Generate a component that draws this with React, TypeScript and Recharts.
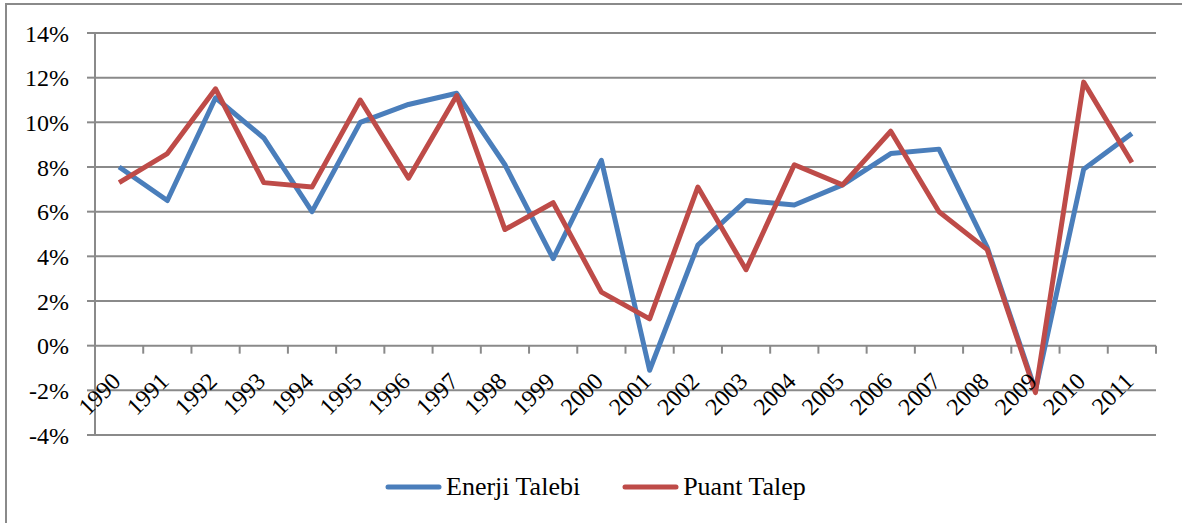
import React from 'react';
import { LineChart, Line, XAxis, YAxis, CartesianGrid, Legend } from 'recharts';

const YEARS = ['1990','1991','1992','1993','1994','1995','1996','1997','1998','1999','2000','2001','2002','2003','2004','2005','2006','2007','2008','2009','2010','2011'];
const ENERJI_TALEBI = [8.0,6.5,11.1,9.3,6.0,10.0,10.8,11.3,8.1,3.9,8.3,-1.1,4.5,6.5,6.3,7.2,8.6,8.8,4.4,-2.0,7.9,9.5];
const PUANT_TALEP = [7.3,8.6,11.5,7.3,7.1,11.0,7.5,11.2,5.2,6.4,2.4,1.2,7.1,3.4,8.1,7.2,9.6,6.0,4.3,-2.1,11.8,8.2];
const Y_TICKS = [-4,-2,0,2,4,6,8,10,12,14];
const SERIES_NAMES = ['Enerji Talebi', 'Puant Talep'];
const COLORS = ['#4A7EBB', '#BE4B48'];

const data = YEARS.map((y, i) => ({ year: y, enerji: ENERJI_TALEBI[i], puant: PUANT_TALEP[i] }));

const W = 1182;
const H = 523;
const PLOT_LEFT = 95;
const PLOT_RIGHT = 1156;
const PLOT_TOP = 33;
const PLOT_BOTTOM = 435;
const PLOT_W = PLOT_RIGHT - PLOT_LEFT;
const PLOT_H = PLOT_BOTTOM - PLOT_TOP;
const Y_MIN = Y_TICKS[0];
const Y_MAX = Y_TICKS[Y_TICKS.length - 1];
const BAND = PLOT_W / YEARS.length;
const ZERO_OFFSET = (PLOT_H * (0 - Y_MIN)) / (Y_MAX - Y_MIN);
const GRAY = '#8a8a8a';
const FONT = 'Liberation Serif, Tinos, DejaVu Serif, serif';

const XTick = (props: any) => {
  const { x, y, payload } = props;
  const zeroY = y - ZERO_OFFSET;
  const ax = x + 3;
  const ay = zeroY + 37;
  return (
    <g>
      <line x1={x + BAND / 2} x2={x + BAND / 2} y1={zeroY} y2={zeroY + 8} stroke={GRAY} strokeWidth={2} />
      <text x={ax} y={ay} textAnchor="end" style={{ fontFamily: FONT, fontSize: 24 }} fill="#000" transform={`rotate(-45 ${ax} ${ay})`}>
        {payload.value}
      </text>
    </g>
  );
};

const YTick = (props: any) => {
  const { x, y, payload } = props;
  return (
    <text x={x} y={y} dy="0.355em" textAnchor="end" style={{ fontFamily: FONT, fontSize: 24 }} fill="#000">
      {`${payload.value}%`}
    </text>
  );
};

const LegendContent = (props: any) => {
  const { payload } = props;
  return (
    <div style={{ display: 'flex', alignItems: 'center', height: 30 }}>
      {(payload || []).map((p: any, i: number) => (
        <div key={i} style={{ display: 'flex', alignItems: 'center', marginRight: i === 0 ? 42 : 0 }}>
          <svg width={57} height={10} style={{ marginRight: 4 }}>
            <line x1={3} x2={54} y1={5} y2={5} stroke={p.color} strokeWidth={5} strokeLinecap="round" />
          </svg>
          <span style={{ fontFamily: FONT, fontSize: 26, lineHeight: '30px', color: '#000' }}>{p.value}</span>
        </div>
      ))}
    </div>
  );
};

export default function App() {
  return (
    <div style={{ position: 'absolute', left: 0, top: 0, width: W, height: H, overflow: 'hidden', background: '#fff', fontFamily: FONT }}>
      <div style={{ position: 'absolute', left: 5, top: 3, width: 1400, height: 800, borderLeft: `2px solid ${GRAY}`, borderTop: `2px solid ${GRAY}`, boxSizing: 'border-box' }} />
      <div style={{ position: 'absolute', left: 0, top: 0 }}>
        <LineChart width={W} height={H} data={data} margin={{ top: PLOT_TOP, right: W - PLOT_RIGHT, left: 0, bottom: 0 }}>
          <CartesianGrid vertical={false} stroke={GRAY} strokeWidth={2} />
          <XAxis
            dataKey="year"
            height={H - PLOT_BOTTOM}
            axisLine={false}
            tickLine={false}
            tickSize={0}
            tickMargin={0}
            interval={0}
            padding={{ left: BAND / 2, right: BAND / 2 }}
            tick={<XTick />}
          />
          <YAxis
            width={PLOT_LEFT}
            domain={[Y_MIN, Y_MAX]}
            ticks={Y_TICKS}
            interval={0}
            axisLine={{ stroke: GRAY, strokeWidth: 2 }}
            tickLine={{ stroke: GRAY, strokeWidth: 2 }}
            tickSize={8}
            tickMargin={18}
            tick={<YTick />}
          />
          <Legend
            layout="horizontal"
            verticalAlign="middle"
            align="center"
            content={<LegendContent />}
            wrapperStyle={{ position: 'absolute', top: 472, left: 385, width: 'auto', height: 30 }}
          />
          <Line type="linear" dataKey="enerji" name={SERIES_NAMES[0]} stroke={COLORS[0]} strokeWidth={5} dot={false} activeDot={false} strokeLinejoin="round" isAnimationActive={false} />
          <Line type="linear" dataKey="puant" name={SERIES_NAMES[1]} stroke={COLORS[1]} strokeWidth={5} dot={false} activeDot={false} strokeLinejoin="round" isAnimationActive={false} />
        </LineChart>
      </div>
    </div>
  );
}
